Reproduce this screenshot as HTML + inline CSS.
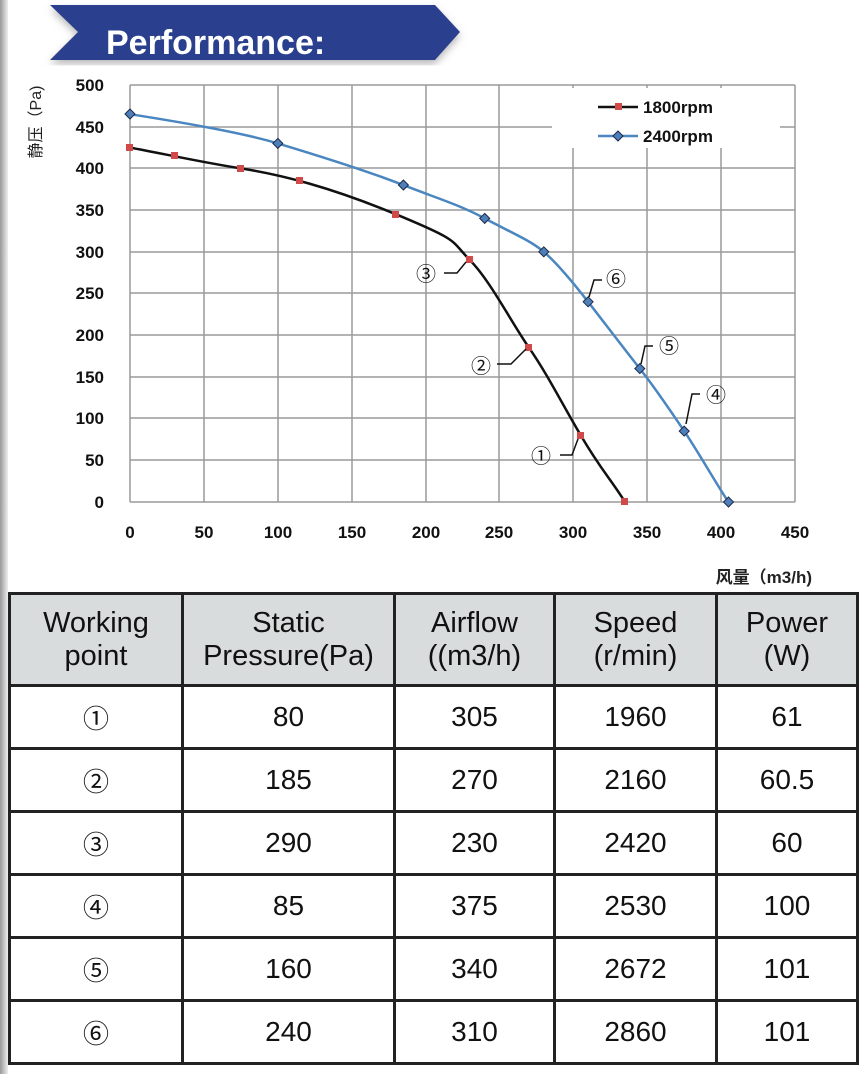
<!DOCTYPE html>
<html><head><meta charset="utf-8"><style>
body{margin:0;width:862px;height:1074px;background:#fff;position:relative;overflow:hidden;font-family:"Liberation Sans","Noto Sans CJK SC",sans-serif}
.shade{position:absolute;left:0;top:0;width:8px;height:1074px;background:linear-gradient(90deg,#999,#eee)}
table{position:absolute;left:8px;top:592px;border-collapse:collapse;width:848px;table-layout:fixed}
td{border:3px solid #222;text-align:center;font-size:28px;color:#111;padding:0;font-family:"Liberation Sans Narrow","Liberation Sans","Noto Sans CJK SC",sans-serif}
tr.h td{background:#d9dcdc;height:89px;line-height:33px;font-size:29px}
tr.r td{height:60px}
.c{font-family:"Noto Sans CJK SC",sans-serif;font-size:26px}
</style></head><body>
<div class="shade"></div>
<svg width="862" height="600" style="position:absolute;left:0;top:0">
<defs><filter id="sh"><feDropShadow dx="0" dy="4" stdDeviation="4" flood-color="#888" flood-opacity="0.6"/></filter></defs>
<polygon points="50,5 435,5 460,32 435,60 50,60 78,32" fill="#2b3f8e" filter="url(#sh)"/>
<text x="106" y="54" font-size="34" font-weight="bold" fill="#fff">Performance:</text>
<g stroke="#9a9a9a" stroke-width="1.5">
<line x1="130" y1="85" x2="795" y2="85"/><line x1="130" y1="127" x2="795" y2="127"/><line x1="130" y1="168" x2="795" y2="168"/><line x1="130" y1="210" x2="795" y2="210"/><line x1="130" y1="252" x2="795" y2="252"/><line x1="130" y1="293" x2="795" y2="293"/><line x1="130" y1="335" x2="795" y2="335"/><line x1="130" y1="377" x2="795" y2="377"/><line x1="130" y1="418" x2="795" y2="418"/><line x1="130" y1="460" x2="795" y2="460"/><line x1="130" y1="502" x2="795" y2="502"/>
<line x1="130" y1="85" x2="130" y2="502"/><line x1="204" y1="85" x2="204" y2="502"/><line x1="278" y1="85" x2="278" y2="502"/><line x1="352" y1="85" x2="352" y2="502"/><line x1="426" y1="85" x2="426" y2="502"/><line x1="499" y1="85" x2="499" y2="502"/><line x1="573" y1="85" x2="573" y2="502"/><line x1="647" y1="85" x2="647" y2="502"/><line x1="721" y1="85" x2="721" y2="502"/><line x1="795" y1="85" x2="795" y2="502"/>
</g>
<rect x="552" y="88" width="228" height="60" fill="#fff"/>
<g font-size="17" font-weight="bold" fill="#111" text-anchor="end">
<text x="104" y="91">500</text><text x="104" y="133">450</text><text x="104" y="174">400</text><text x="104" y="216">350</text><text x="104" y="258">300</text><text x="104" y="299">250</text><text x="104" y="341">200</text><text x="104" y="383">150</text><text x="104" y="424">100</text><text x="104" y="466">50</text><text x="104" y="508">0</text>
</g>
<g font-size="17" font-weight="bold" fill="#111" text-anchor="middle">
<text x="130" y="538">0</text><text x="204" y="538">50</text><text x="278" y="538">100</text><text x="352" y="538">150</text><text x="426" y="538">200</text><text x="499" y="538">250</text><text x="573" y="538">300</text><text x="647" y="538">350</text><text x="721" y="538">400</text><text x="795" y="538">450</text>
</g>
<text x="41" y="122" font-size="16" fill="#222" transform="rotate(-90 41 122)" text-anchor="middle">静压（Pa)</text>
<text x="812" y="583" font-size="17" font-weight="bold" fill="#222" text-anchor="end">风量（m3/h)</text>
<path d="M130,147.6 C160,153 200,162 240.8,168.4 S330,187 396,214.3 S450,240 469.9,260.1 S510,320 529,347.7 S560,400 580.7,435.3 S610,478 625,502" fill="none" stroke="#111" stroke-width="2.5"/>
<path d="M130,114.2 C180,122 240,132 277.8,143.4 S370,172 403.4,185.1 S460,205 484.7,218.4 S530,240 543.8,251.8 S575,285 588.1,301.8 S625,350 639.8,368.6 S670,410 684.2,431.1 S720,490 728.5,502" fill="none" stroke="#4a86c0" stroke-width="2.5"/>
<g fill="#d04a4a">
<rect x="126" y="144" width="7" height="7"/><rect x="171" y="152" width="7" height="7"/><rect x="237" y="165" width="7" height="7"/><rect x="296" y="177" width="7" height="7"/><rect x="392" y="211" width="7" height="7"/><rect x="466" y="256" width="7" height="7"/><rect x="525" y="344" width="7" height="7"/><rect x="577" y="432" width="7" height="7"/><rect x="621" y="498" width="7" height="7"/>
</g>
<g fill="#4f7fb8" stroke="#1c2a4a" stroke-width="1">
<path d="M130,109 l5,5 l-5,5 l-5,-5z"/><path d="M277.8,138.4 l5,5 l-5,5 l-5,-5z"/><path d="M403.4,180 l5,5 l-5,5 l-5,-5z"/><path d="M484.7,213.4 l5,5 l-5,5 l-5,-5z"/><path d="M543.8,246.8 l5,5 l-5,5 l-5,-5z"/><path d="M588.1,296.8 l5,5 l-5,5 l-5,-5z"/><path d="M639.8,363.6 l5,5 l-5,5 l-5,-5z"/><path d="M684.2,426.1 l5,5 l-5,5 l-5,-5z"/><path d="M728.5,497 l5,5 l-5,5 l-5,-5z"/>
</g>
<g stroke="#111" stroke-width="1.5" fill="none">
<path d="M444,273 h13 l9,-11"/><path d="M497,364 h14 l15,-15"/><path d="M560,455 h12 l6,-16"/><path d="M602,280 h-8 l-5,17"/><path d="M653,346 h-8 l-4,18"/><path d="M700,394 h-8 l-6,30"/>
</g>
<g font-size="20" fill="#111" font-family="'Noto Sans CJK SC',sans-serif">
<text x="416" y="281">③</text><text x="471" y="373">②</text><text x="531" y="463">①</text><text x="606" y="286">⑥</text><text x="659" y="353">⑤</text><text x="706" y="402">④</text>
</g>
<line x1="598" y1="107" x2="638" y2="107" stroke="#111" stroke-width="2.5"/><rect x="615" y="103" width="7" height="7" fill="#d04a4a"/>
<line x1="598" y1="136" x2="638" y2="136" stroke="#4a86c0" stroke-width="2.5"/><path d="M618,131 l5,5 l-5,5 l-5,-5z" fill="#4f7fb8" stroke="#1c2a4a"/>
<text x="643" y="113" font-size="17" font-weight="bold" fill="#111">1800rpm</text>
<text x="643" y="142" font-size="17" font-weight="bold" fill="#111">2400rpm</text>
</svg>
<table>
<colgroup><col style="width:173px"><col style="width:212px"><col style="width:160px"><col style="width:162px"><col style="width:141px"></colgroup>
<tr class="h"><td>Working<br>point</td><td>Static<br>Pressure(Pa)</td><td>Airflow<br>((m3/h)</td><td>Speed<br>(r/min)</td><td>Power<br>(W)</td></tr>
<tr class="r"><td class="c">①</td><td>80</td><td>305</td><td>1960</td><td>61</td></tr>
<tr class="r"><td class="c">②</td><td>185</td><td>270</td><td>2160</td><td>60.5</td></tr>
<tr class="r"><td class="c">③</td><td>290</td><td>230</td><td>2420</td><td>60</td></tr>
<tr class="r"><td class="c">④</td><td>85</td><td>375</td><td>2530</td><td>100</td></tr>
<tr class="r"><td class="c">⑤</td><td>160</td><td>340</td><td>2672</td><td>101</td></tr>
<tr class="r"><td class="c">⑥</td><td>240</td><td>310</td><td>2860</td><td>101</td></tr>
</table>
</body></html>
